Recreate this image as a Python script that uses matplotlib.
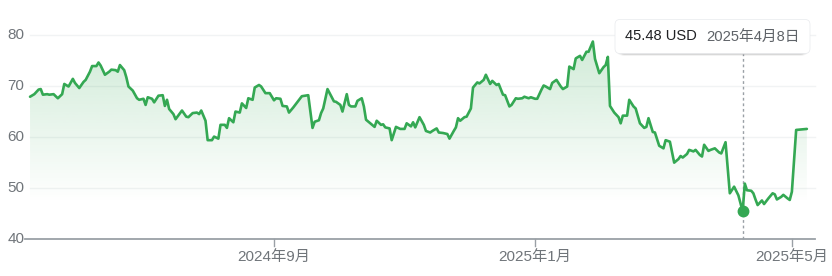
import numpy as np
import pandas as pd
import matplotlib
matplotlib.use("Agg")
import matplotlib.pyplot as plt
import matplotlib.dates as mdates
import matplotlib.transforms as mtransforms
from matplotlib.patches import Polygon, FancyBboxPatch

plt.rcParams['font.family'] = ['Liberation Sans', 'Noto Sans CJK SC']

# ---- price history ----
dates = [
    '2024-05-10', '2024-05-12', '2024-05-14', '2024-05-15', '2024-05-16', '2024-05-18',
    '2024-05-19', '2024-05-21', '2024-05-23', '2024-05-25', '2024-05-26', '2024-05-28',
    '2024-05-30', '2024-05-31', '2024-06-02', '2024-06-04', '2024-06-05', '2024-06-07',
    '2024-06-08', '2024-06-10', '2024-06-11', '2024-06-12', '2024-06-14', '2024-06-16',
    '2024-06-17', '2024-06-19', '2024-06-20', '2024-06-21', '2024-06-23', '2024-06-24',
    '2024-06-25', '2024-06-27', '2024-06-29', '2024-06-30', '2024-07-02', '2024-07-03',
    '2024-07-04', '2024-07-06', '2024-07-07', '2024-07-09', '2024-07-11', '2024-07-12',
    '2024-07-13', '2024-07-14', '2024-07-16', '2024-07-17', '2024-07-20', '2024-07-22',
    '2024-07-23', '2024-07-25', '2024-07-27', '2024-07-28', '2024-07-29', '2024-07-31',
    '2024-08-01', '2024-08-03', '2024-08-04', '2024-08-06', '2024-08-07', '2024-08-09',
    '2024-08-10', '2024-08-11', '2024-08-13', '2024-08-14', '2024-08-16', '2024-08-17',
    '2024-08-19', '2024-08-20', '2024-08-22', '2024-08-23', '2024-08-25', '2024-08-26',
    '2024-08-28', '2024-08-30', '2024-09-01', '2024-09-02', '2024-09-04', '2024-09-05',
    '2024-09-07', '2024-09-08', '2024-09-10', '2024-09-12', '2024-09-14', '2024-09-17',
    '2024-09-19', '2024-09-20', '2024-09-22', '2024-09-23', '2024-09-24', '2024-09-26',
    '2024-09-27', '2024-09-29', '2024-09-30', '2024-10-02', '2024-10-03', '2024-10-05',
    '2024-10-06', '2024-10-07', '2024-10-09', '2024-10-10', '2024-10-12', '2024-10-13',
    '2024-10-14', '2024-10-16', '2024-10-18', '2024-10-19', '2024-10-21', '2024-10-22',
    '2024-10-23', '2024-10-25', '2024-10-26', '2024-10-28', '2024-10-30', '2024-10-31',
    '2024-11-01', '2024-11-02', '2024-11-04', '2024-11-05', '2024-11-06', '2024-11-08',
    '2024-11-10', '2024-11-11', '2024-11-13', '2024-11-14', '2024-11-16', '2024-11-17',
    '2024-11-19', '2024-11-21', '2024-11-22', '2024-11-24', '2024-11-25', '2024-11-26',
    '2024-11-27', '2024-11-29', '2024-11-30', '2024-12-02', '2024-12-03', '2024-12-05',
    '2024-12-06', '2024-12-08', '2024-12-09', '2024-12-11', '2024-12-12', '2024-12-14',
    '2024-12-15', '2024-12-17', '2024-12-18', '2024-12-20', '2024-12-21', '2024-12-23',
    '2024-12-24', '2024-12-26', '2024-12-27', '2024-12-29', '2024-12-30', '2025-01-01',
    '2025-01-02', '2025-01-04', '2025-01-05', '2025-01-06', '2025-01-08', '2025-01-09',
    '2025-01-11', '2025-01-13', '2025-01-14', '2025-01-16', '2025-01-17', '2025-01-19',
    '2025-01-20', '2025-01-22', '2025-01-23', '2025-01-25', '2025-01-26', '2025-01-28',
    '2025-01-29', '2025-01-31', '2025-02-02', '2025-02-03', '2025-02-04', '2025-02-05',
    '2025-02-07', '2025-02-09', '2025-02-10', '2025-02-11', '2025-02-13', '2025-02-14',
    '2025-02-16', '2025-02-17', '2025-02-19', '2025-02-21', '2025-02-22', '2025-02-23',
    '2025-02-25', '2025-02-26', '2025-02-28', '2025-03-02', '2025-03-03', '2025-03-05',
    '2025-03-07', '2025-03-09', '2025-03-10', '2025-03-11', '2025-03-13', '2025-03-14',
    '2025-03-16', '2025-03-17', '2025-03-19', '2025-03-20', '2025-03-21', '2025-03-23',
    '2025-03-24', '2025-03-26', '2025-03-28', '2025-03-29', '2025-03-31', '2025-04-02',
    '2025-04-04', '2025-04-06', '2025-04-08', '2025-04-09', '2025-04-10', '2025-04-12',
    '2025-04-13', '2025-04-14', '2025-04-15', '2025-04-17', '2025-04-18', '2025-04-20',
    '2025-04-22', '2025-04-23', '2025-04-24', '2025-04-26', '2025-04-27', '2025-04-29',
    '2025-04-30', '2025-05-01', '2025-05-03', '2025-05-08',
]
prices = [
    67.9, 68.4, 69.3, 69.4, 68.3, 68.4,
    68.3, 68.4, 67.6, 68.4, 70.4, 69.9,
    71.4, 70.6, 69.6, 70.8, 71.2, 72.8,
    73.9, 73.9, 74.6, 74.0, 72.2, 72.8,
    73.2, 73.1, 72.8, 74.1, 73.1, 71.7,
    69.9, 69.1, 67.6, 67.3, 67.5, 66.3,
    67.8, 67.5, 66.8, 68.1, 68.2, 66.1,
    67.3, 65.5, 64.5, 63.5, 65.2, 64.0,
    63.9, 64.7, 64.8, 64.5, 65.2, 63.2,
    59.4, 59.4, 60.1, 59.7, 62.4, 62.4,
    61.8, 63.7, 62.9, 65.0, 64.8, 66.6,
    65.7, 67.6, 67.3, 69.7, 70.2, 69.9,
    68.6, 68.6, 67.2, 67.6, 67.5, 66.1,
    66.0, 64.8, 65.8, 66.9, 68.0, 68.2,
    61.8, 63.0, 63.3, 64.7, 65.6, 69.4,
    68.6, 67.0, 66.9, 66.3, 65.0, 68.4,
    66.3, 66.0, 66.0, 67.1, 67.6, 66.0,
    63.4, 62.7, 62.0, 63.2, 62.4, 62.5,
    61.9, 61.7, 59.4, 62.0, 61.6, 61.6,
    61.6, 62.7, 62.1, 62.9, 61.9, 63.9,
    62.4, 61.2, 60.9, 61.2, 61.7, 60.9,
    60.8, 60.6, 59.7, 61.2, 61.9, 63.7,
    63.2, 63.9, 64.0, 65.6, 69.7, 70.7,
    70.5, 71.2, 72.2, 70.4, 71.0, 70.2,
    70.4, 68.3, 68.2, 66.0, 66.3, 67.6,
    67.5, 67.6, 67.9, 67.6, 67.8, 67.5,
    67.5, 69.3, 70.1, 69.9, 69.4, 70.6,
    71.2, 69.9, 69.4, 69.9, 73.8, 73.3,
    75.4, 75.9, 75.1, 76.7, 76.7, 78.7,
    75.3, 72.5, 73.7, 74.1, 75.7, 66.1,
    64.8, 63.9, 62.7, 64.2, 64.2, 67.3,
    66.0, 65.6, 62.7, 61.8, 62.0, 63.7,
    61.0, 60.9, 58.3, 57.8, 59.4, 59.1,
    55.0, 55.7, 56.3, 56.0, 56.7, 57.5,
    57.2, 57.5, 56.5, 56.2, 58.5, 57.3,
    57.5, 57.8, 57.0, 56.8, 59.0, 49.0,
    50.3, 48.6, 45.48, 50.9, 49.6, 49.5,
    49.0, 47.8, 46.7, 47.6, 46.9, 48.0,
    49.0, 48.8, 47.8, 48.3, 48.7, 48.0,
    47.7, 49.3, 61.4, 61.6,
]

y_ticks = [40, 50, 60, 70, 80]
x_tick_dates = ['2024-09-01', '2025-01-01', '2025-05-01']
x_tick_labels = ['2024年9月', '2025年1月', '2025年5月']

hover_date = '2025-04-08'
hover_price = 45.48
hover_date_label = '2025年4月8日'
currency = 'USD'

# ---- styling ----
GREEN = '#34a853'
GREEN_RGB = (52 / 255, 168 / 255, 83 / 255)
GRID = '#f1f3f4'
AXIS = '#9aa0a6'
LABEL = '#70757a'

W, H = 832, 276
fig = plt.figure(figsize=(W / 100, H / 100), dpi=100)
ax = fig.add_axes([0, 0, 1, 1])
ax.set_axis_off()

x = mdates.date2num(pd.to_datetime(dates))
y = np.asarray(prices, dtype=float)

# time scale: pixels per day, and vertical scale: pixels per price unit
sep1 = mdates.date2num(pd.Timestamp('2024-09-01'))
px_day = 2.14
ax.set_xlim(sep1 - 274 / px_day, sep1 + (W - 274) / px_day)
px_unit = 5.11
base_px = 239.3
ax.set_ylim(40 - (H - base_px) / px_unit, 40 + base_px / px_unit)

# horizontal gridlines
for v in y_ticks[1:]:
    ax.axhline(v, xmin=30 / W, xmax=815 / W, color=GRID, lw=1.0, zorder=0)
ax.axhline(y_ticks[0], xmin=25 / W, xmax=815 / W, color=AXIS, lw=1.3, zorder=4)

# y labels
ytrans = mtransforms.blended_transform_factory(ax.transAxes, ax.transData)
for v in y_ticks:
    ax.text(24.5 / W, v, f'{v}', transform=ytrans, ha='right', va='center',
            fontsize=11, color=LABEL)

# x ticks and labels
tick_len = 7 / px_unit
for d, lab in zip(x_tick_dates, x_tick_labels):
    xt = mdates.date2num(pd.Timestamp(d))
    ax.plot([xt, xt], [40, 40 - tick_len], color=AXIS, lw=1.0, zorder=4)
    ax.annotate(lab, (xt, 40), xytext=(0, -17.5 * 0.72), textcoords='offset points',
                ha='center', va='center', fontsize=11, color=LABEL)

# gradient area under the line
n = 400
levels = np.linspace(40, 80, n)
alpha = np.clip((levels - 47) / (80 - 47), 0, 1) * 0.24
img = np.zeros((n, 1, 4))
img[..., 0] = GREEN_RGB[0]
img[..., 1] = GREEN_RGB[1]
img[..., 2] = GREEN_RGB[2]
img[..., 3] = alpha[:, None]
im = ax.imshow(img, extent=[x[0], x[-1], 40, 80], aspect='auto', origin='lower',
               interpolation='bilinear', zorder=1)
verts = np.vstack([np.column_stack([x, y]), [[x[-1], 40], [x[0], 40]]])
clip = Polygon(verts, closed=True, facecolor='none', edgecolor='none')
ax.add_patch(clip)
im.set_clip_path(clip)

# price line
ax.plot(x, y, color=GREEN, lw=1.9, solid_joinstyle='round', solid_capstyle='round', zorder=3)

# hover marker
hx = mdates.date2num(pd.Timestamp(hover_date))
box_bottom = 40 + (base_px - 53.5) / px_unit
ax.plot([hx, hx], [40, box_bottom], color=AXIS, lw=1.0, linestyle=(0, (2, 2)), zorder=2)
ax.plot([hx], [hover_price], 'o', ms=7.5, color=GREEN, zorder=5)

# tooltip box
bx0, bx1, by0, by1 = 615, 810, 19.5, 53.5
for off, a in [(2.5, 0.05), (1.5, 0.08), (0.8, 0.10)]:
    sh = FancyBboxPatch(((bx0) / W, (H - by1 - off) / H), (bx1 - bx0) / W, (by1 - by0) / H,
                        boxstyle='round,pad=0,rounding_size=0.012',
                        transform=fig.transFigure, facecolor='black', edgecolor='none',
                        alpha=a, zorder=6, mutation_aspect=W / H)
    fig.patches.append(sh)
box = FancyBboxPatch((bx0 / W, (H - by1) / H), (bx1 - bx0) / W, (by1 - by0) / H,
                     boxstyle='round,pad=0,rounding_size=0.006',
                     transform=fig.transFigure, facecolor='white', edgecolor='#e8eaed',
                     lw=0.5, zorder=7, mutation_aspect=W / H)
fig.patches.append(box)
ty = (H - 36.5) / H
fig.text(625 / W, ty, f'{hover_price:.2f} {currency}', ha='left', va='center',
         fontsize=10.6, color='#202124', zorder=8)
fig.text(706 / W, ty, hover_date_label, ha='left', va='center',
         fontsize=10.6, color='#5f6368', zorder=8)

fig.savefig('out.png', dpi=100)
